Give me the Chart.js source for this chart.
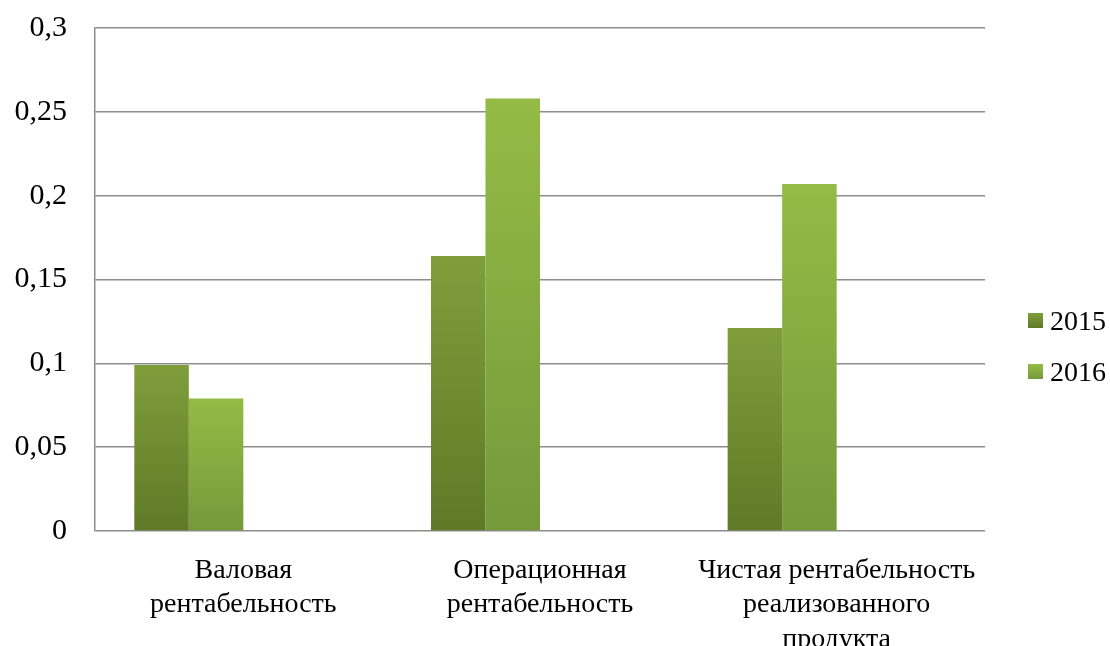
<!DOCTYPE html>
<html>
<head>
<meta charset="utf-8">
<script src="https://cdn.jsdelivr.net/npm/chart.js@4"></script>
<style>
    body { margin: 0; background: #fff; }
    #wrap { position: relative; width: 1110px; height: 646px; }
    #legend { position: absolute; left: 1028px; top: 295px; font-family: "Liberation Serif", serif; font-size: 28px; color: #000; }
    .item { display: flex; align-items: center; height: 51px; }
    .box { width: 15px; height: 15px; margin-right: 7px; }
</style>
</head>
<body>
<div id="wrap">
    <canvas id="rentChart" width="1110" height="646"></canvas>
    <div id="legend"></div>
</div>
<script>
const categories = [
    ['Валовая', 'рентабельность'],
    ['Операционная', 'рентабельность'],
    ['Чистая рентабельность', 'реализованного', 'продукта']
];
const years = ['2015', '2016'];
const values2015 = [0.099, 0.164, 0.121];
const values2016 = [0.079, 0.258, 0.207];

// top / bottom colours of each bar gradient
const shades = {
    '2015': ['#7f9e3b', '#5e7a27'],
    '2016': ['#94bb45', '#76993a']
};

function barGradient(year) {
    return (context) => {
        const chart = context.chart;
        if (!chart.chartArea || context.raw == null) return shades[year][0];
        const y = chart.scales.y;
        const top = y.getPixelForValue(context.raw);
        const bottom = y.getPixelForValue(0);
        const g = chart.ctx.createLinearGradient(0, top, 0, bottom);
        g.addColorStop(0, shades[year][0]);
        g.addColorStop(1, shades[year][1]);
        return g;
    };
}

const ctx = document.getElementById('rentChart');

new Chart(ctx, {
    type: 'bar',
    data: {
        labels: categories,
        datasets: [{
            label: '2015',
            data: values2015,
            backgroundColor: barGradient('2015')
        }, {
            label: '2016',
            data: values2016,
            backgroundColor: barGradient('2016')
        }, {
            // empty series kept from the original table
            label: '',
            data: [null, null, null]
        }, {
            label: '',
            data: [null, null, null]
        }]
    },
    options: {
        responsive: false,
        animation: false,
        layout: { padding: { top: 28, right: 125 } },
        datasets: {
            bar: { barPercentage: 1, categoryPercentage: 0.735 }
        },
        plugins: {
            legend: { display: false },
            tooltip: { enabled: false }
        },
        scales: {
            x: {
                grid: { display: false },
                border: { display: false },
                ticks: {
                    color: '#000',
                    padding: 14,
                    maxRotation: 0,
                    autoSkip: false,
                    font: { family: 'Liberation Serif', size: 28, lineHeight: 1.24 }
                },
                afterFit: (scale) => {
                    scale.height = 115;
                    scale.paddingLeft = 0;
                    scale.paddingRight = 0;
                }
            },
            y: {
                min: 0,
                max: 0.3,
                ticks: {
                    stepSize: 0.05,
                    color: '#000',
                    padding: 28,
                    font: { family: 'Liberation Serif', size: 30 },
                    callback: (v) => String(Math.round(v * 100) / 100).replace('.', ',')
                },
                grid: { color: '#8c8c8c', lineWidth: 1.5, drawTicks: false },
                border: { color: '#8c8c8c', width: 1.5 },
                afterFit: (scale) => {
                    scale.width = 95;
                    scale.paddingTop = 0;
                    scale.paddingBottom = 0;
                }
            }
        }
    }
});

// Legend built by hand so it sits where the original one does
const legend = document.getElementById('legend');
years.forEach(year => {
    const item = document.createElement('div');
    item.className = 'item';
    item.innerHTML = `<span class="box" style="background: linear-gradient(${shades[year][0]}, ${shades[year][1]})"></span>${year}`;
    legend.appendChild(item);
});
</script>
</body>
</html>
